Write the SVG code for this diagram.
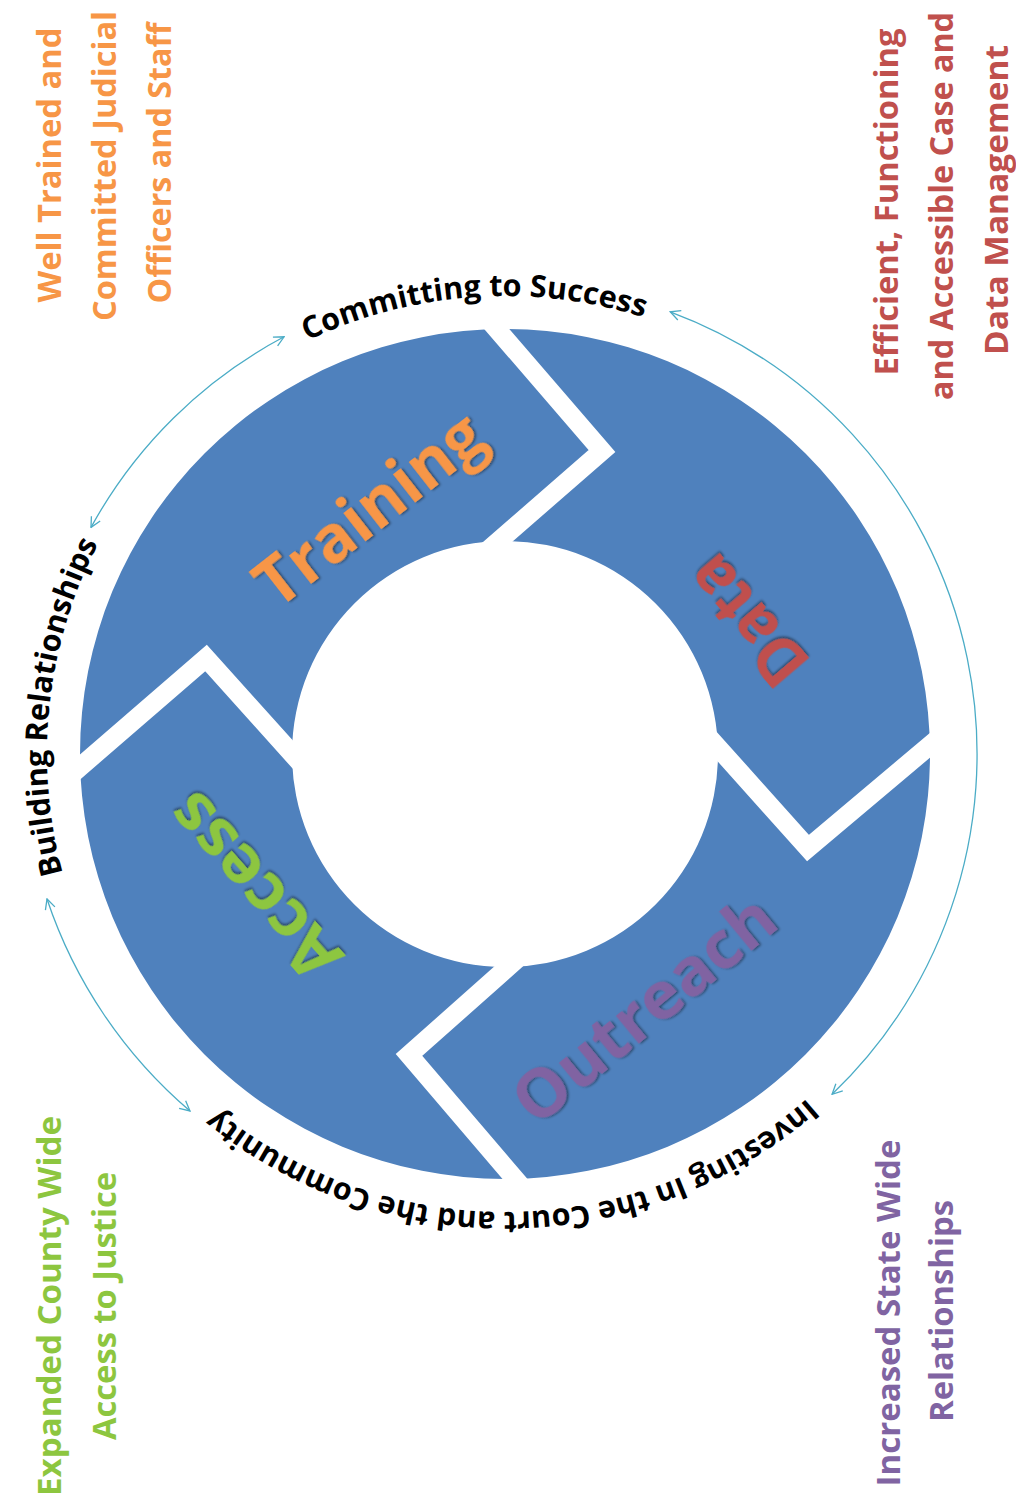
<svg xmlns="http://www.w3.org/2000/svg" xmlns:xlink="http://www.w3.org/1999/xlink" width="1016" height="1507" viewBox="0 0 1016 1507">
  <style>
    .ring { fill: #4F81BD; fill-rule: evenodd; }
    .seg { font-family: "Open Sans", "Liberation Sans", sans-serif; font-weight: 700; font-size: 66px; }
    .corner { font-family: "Open Sans", "Liberation Sans", sans-serif; font-weight: 700; font-size: 33px; }
    .arc { font-family: "Open Sans", "Liberation Sans", sans-serif; font-weight: 700; font-size: 30.5px; fill: #000; }
    .conn { fill: none; stroke: #4BACC6; stroke-width: 1.3; marker-start: url(#arr); marker-end: url(#arr); }
    .orange { fill: #F79646; }
    .red { fill: #C0504D; }
    .purple { fill: #8064A2; }
    .green { fill: #8DC63F; }
  </style>
  <defs>
    <path id="ringShape" d="M80,754 A425,425 0 1 1 930,754 A425,425 0 1 1 80,754 Z M292,754 A213,213 0 1 0 718,754 A213,213 0 1 0 292,754 Z"/>
    <path id="labelCircle" d="M963,754 A458,458 0 1 1 47,754 A458,458 0 1 1 963,754"/>
    <mask id="gaps" maskUnits="userSpaceOnUse" x="0" y="0" width="1016" height="1507">
      <rect x="0" y="0" width="1016" height="1507" fill="#fff"/>
      <g fill="none" stroke="#000" stroke-width="19" stroke-linejoin="miter" stroke-miterlimit="10">
        <polyline points="470,298 602,451 470,566"/>
        <polyline points="696,723 808,848 960,720"/>
        <polyline points="535,943 409,1055 539,1207"/>
        <polyline points="313,777 206,658 50,793"/>
      </g>
    </mask>
    <clipPath id="clipTraining"><polygon points="505,754 313,777 206,658 50,793 -100,793 -100,-100 470,-100 470,298 602,451 470,566"/></clipPath>
    <clipPath id="clipData"><polygon points="505,754 470,566 602,451 470,298 470,-100 1100,-100 1100,720 960,720 808,848 696,723"/></clipPath>
    <clipPath id="clipOutreach"><polygon points="505,754 696,723 808,848 960,720 1100,720 1100,1600 539,1600 539,1207 409,1055 535,943"/></clipPath>
    <clipPath id="clipAccess"><polygon points="505,754 535,943 409,1055 539,1207 539,1600 -100,1600 -100,793 50,793 206,658 313,777"/></clipPath>
    <filter id="bevel" x="-10%" y="-10%" width="120%" height="120%">
      <feDropShadow dx="1.5" dy="1.5" stdDeviation="1" flood-color="#000" flood-opacity="0.45"/>
    </filter>
    <marker id="arr" viewBox="0 0 12 12" refX="11" refY="6" markerWidth="12" markerHeight="12" markerUnits="userSpaceOnUse" orient="auto-start-reverse">
      <path d="M1,1 L11,6 L1,11" fill="none" stroke="#4BACC6" stroke-width="1.3"/>
    </marker>
  </defs>

  <rect x="0" y="0" width="1016" height="1507" fill="#fff"/>

  <g id="node-training">
    <use href="#ringShape" class="ring" clip-path="url(#clipTraining)" mask="url(#gaps)"/>
    <text class="seg orange" filter="url(#bevel)" transform="translate(370,510) rotate(-38)" text-anchor="middle" y="22" textLength="270" lengthAdjust="spacingAndGlyphs">Training</text>
  </g>
  <g id="node-data">
    <use href="#ringShape" class="ring" clip-path="url(#clipData)" mask="url(#gaps)"/>
    <text class="seg red" filter="url(#bevel)" transform="translate(748,620) rotate(229.5)" text-anchor="middle" y="22" textLength="148" lengthAdjust="spacingAndGlyphs">Data</text>
  </g>
  <g id="node-outreach">
    <use href="#ringShape" class="ring" clip-path="url(#clipOutreach)" mask="url(#gaps)"/>
    <text class="seg purple" filter="url(#bevel)" transform="translate(645,1010) rotate(-39.5)" text-anchor="middle" y="22" textLength="318" lengthAdjust="spacingAndGlyphs">Outreach</text>
  </g>
  <g id="node-access">
    <use href="#ringShape" class="ring" clip-path="url(#clipAccess)" mask="url(#gaps)"/>
    <text class="seg green" filter="url(#bevel)" transform="translate(255,886) rotate(228.5)" text-anchor="middle" y="22" textLength="225" lengthAdjust="spacingAndGlyphs">Access</text>
  </g>

  <g id="connectors">
    <path class="conn" d="M284.1,336.8 A472,472 0 0 0 91.0,527.4"/>
    <path class="conn" d="M670.2,311.8 A472,472 0 0 1 832.1,1094.3"/>
    <path class="conn" d="M47,899 A478,478 0 0 0 190,1111"/>
  </g>

  <g id="arc-labels">
    <text class="arc"><textPath href="#labelCircle" startOffset="73.9%" text-anchor="middle">Committing to Success</textPath></text>
    <text class="arc"><textPath href="#labelCircle" startOffset="51.7%" text-anchor="middle">Building Relationships</textPath></text>
    <text class="arc"><textPath href="#labelCircle" startOffset="24.7%" text-anchor="middle">Investing In the Court and the Community</textPath></text>
  </g>

  <g id="goal-training">
    <text class="corner orange" transform="translate(61,165) rotate(-90)" text-anchor="middle" textLength="275" lengthAdjust="spacingAndGlyphs">Well Trained and</text>
    <text class="corner orange" transform="translate(116,166) rotate(-90)" text-anchor="middle" textLength="310" lengthAdjust="spacingAndGlyphs">Committed Judicial</text>
    <text class="corner orange" transform="translate(171,163) rotate(-90)" text-anchor="middle" textLength="281" lengthAdjust="spacingAndGlyphs">Officers and Staff</text>
  </g>
  <g id="goal-data">
    <text class="corner red" transform="translate(898,202) rotate(-90)" text-anchor="middle" textLength="347" lengthAdjust="spacingAndGlyphs">Efficient, Functioning</text>
    <text class="corner red" transform="translate(953,206) rotate(-90)" text-anchor="middle" textLength="388" lengthAdjust="spacingAndGlyphs">and Accessible Case and</text>
    <text class="corner red" transform="translate(1008,200) rotate(-90)" text-anchor="middle" textLength="310" lengthAdjust="spacingAndGlyphs">Data Management</text>
  </g>
  <g id="goal-access">
    <text class="corner green" transform="translate(61,1306) rotate(-90)" text-anchor="middle" textLength="380" lengthAdjust="spacingAndGlyphs">Expanded County Wide</text>
    <text class="corner green" transform="translate(116,1306) rotate(-90)" text-anchor="middle" textLength="268" lengthAdjust="spacingAndGlyphs">Access to Justice</text>
  </g>
  <g id="goal-outreach">
    <text class="corner purple" transform="translate(900,1313) rotate(-90)" text-anchor="middle" textLength="347" lengthAdjust="spacingAndGlyphs">Increased State Wide</text>
    <text class="corner purple" transform="translate(953,1311) rotate(-90)" text-anchor="middle" textLength="222" lengthAdjust="spacingAndGlyphs">Relationships</text>
  </g>
</svg>
